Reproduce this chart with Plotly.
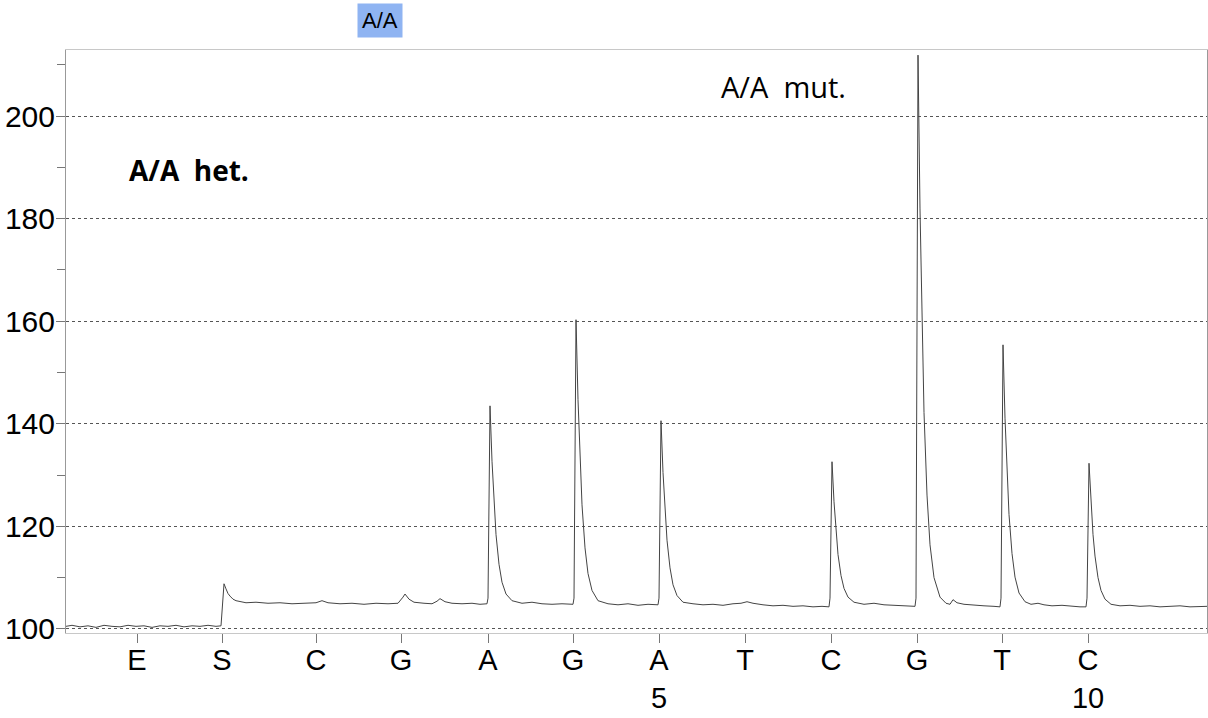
import plotly.graph_objects as go

# Dispensation order (tick labels) and their positions on the time axis
disp_labels = ["E", "S", "C", "G", "A", "G", "A<br>5", "T", "C", "G", "T", "C<br>10"]
disp_pos = [137, 222, 316, 401, 488, 573, 659, 745, 831, 917, 1002, 1088]

# Pyrogram trace (time units, signal)
trace_x = [
    66, 72, 80, 88, 96, 104, 112, 120, 128, 136, 144, 152, 160, 168, 176, 184, 192, 200, 208, 216, 221,
    222, 224, 226, 228, 230, 233, 236, 240, 246,
    256, 268, 280, 292, 304, 316, 322, 328, 340, 352, 364, 376, 388, 398, 403, 405, 409, 414, 424, 432,
    437, 440, 445, 452, 462, 472, 480, 487,
    488, 490, 492, 494, 496, 499, 502, 506, 512,
    522, 532, 542, 552, 562, 573,
    574, 576, 578, 580, 582, 585, 588, 592, 598,
    608, 618, 628, 638, 648, 658,
    659, 661, 663, 665, 667, 670, 673, 677, 683,
    693, 703, 713, 723, 733, 741, 747, 753, 763, 773, 783, 793, 803, 813, 822, 829,
    830, 832, 834, 836, 838, 841, 844, 848, 854,
    864, 874, 884, 894, 904, 915,
    916, 918, 920, 922, 924, 927, 930, 934, 940,
    946, 950, 953, 957, 964, 974, 984, 994, 1000,
    1001, 1003, 1005, 1007, 1009, 1012, 1015, 1019, 1025,
    1031, 1038, 1044, 1052, 1062, 1072, 1080, 1086,
    1087, 1089, 1091, 1093, 1095, 1098, 1101, 1105, 1111,
    1120, 1130, 1140, 1150, 1160, 1170, 1180, 1190, 1200, 1207,
]
trace_y = [
    100.5, 100.7, 100.4, 100.6, 100.3, 100.7, 100.5, 100.4, 100.7, 100.5, 100.6, 100.3, 100.6, 100.5, 100.7, 100.4, 100.6, 100.5, 100.7, 100.5, 100.6,
    104.0, 108.8, 107.8, 106.9, 106.4, 105.8, 105.5, 105.3, 105.1,
    105.2, 105.0, 105.1, 104.9, 105.0, 105.1, 105.5, 105.1, 104.9, 105.0, 104.8, 105.0, 104.9, 105.0, 106.2, 106.8, 105.8, 105.2, 105.0, 104.9,
    105.4, 105.9, 105.3, 105.0, 104.9, 105.0, 104.8, 104.9,
    106.0, 143.5, 132.7, 124.2, 118.4, 112.6, 109.1, 106.8, 105.5,
    105.0, 105.2, 104.9, 104.8, 104.9, 104.8,
    106.0, 160.3, 144.7, 132.5, 124.2, 115.8, 110.8, 107.5, 105.5,
    104.9, 104.7, 104.9, 104.6, 104.8, 104.7,
    106.0, 140.6, 130.5, 122.7, 117.3, 111.9, 108.6, 106.5, 105.2,
    104.9, 104.7, 104.8, 104.6, 104.9, 105.0, 105.3, 105.0, 104.7, 104.5, 104.6, 104.4, 104.5, 104.3, 104.4, 104.3,
    106.0, 132.6, 124.8, 118.7, 114.5, 110.4, 107.9, 106.2, 105.2,
    104.8, 105.0, 104.7, 104.6, 104.5, 104.4,
    106.0, 211.9, 181.9, 158.3, 142.2, 126.1, 116.4, 110.0, 106.2,
    105.0, 104.8, 105.7, 105.1, 104.8, 104.6, 104.5, 104.4, 104.3,
    106.0, 155.4, 141.1, 129.9, 122.3, 114.7, 110.1, 107.0, 105.3,
    104.8, 105.0, 104.7, 104.5, 104.6, 104.4, 104.3, 104.3,
    106.0, 132.3, 124.5, 118.4, 114.2, 110.0, 107.5, 105.8, 104.8,
    104.5, 104.6, 104.4, 104.5, 104.3, 104.4, 104.5, 104.3, 104.4, 104.4,
]

y_ticks = [100, 120, 140, 160, 180, 200]

fig = go.Figure()
fig.add_trace(go.Scatter(
    x=trace_x, y=trace_y, mode="lines",
    line=dict(color="#444444", width=1),
    hoverinfo="skip", showlegend=False,
))

fig.update_layout(
    width=1208, height=718,
    margin=dict(l=66, r=1, t=50, b=85),
    paper_bgcolor="white", plot_bgcolor="white",
    font=dict(family="Liberation Sans, Arial, sans-serif", color="black"),
    showlegend=False,
)

fig.update_xaxes(
    range=[66, 1207],
    tickmode="array", tickvals=disp_pos, ticktext=disp_labels,
    ticks="outside", ticklen=9, tickwidth=1, tickcolor="#777",
    ticklabelstandoff=-8,
    tickfont=dict(size=29, family="Liberation Sans, Arial, sans-serif"),
    showgrid=False, zeroline=False,
    showline=True, linecolor="#c8c8c8", linewidth=1, mirror=True,
)
fig.update_yaxes(
    range=[99.2, 212.9],
    tickmode="array", tickvals=y_ticks,
    ticks="outside", ticklen=9, tickwidth=1, tickcolor="#777",
    ticklabelstandoff=-5,
    minor=dict(tickvals=[110, 130, 150, 170, 190, 210], ticks="outside", ticklen=8, tickcolor="#777", showgrid=False),
    tickfont=dict(size=30, family="Liberation Sans, Arial, sans-serif"),
    showgrid=True, gridcolor="#555", griddash="dot", gridwidth=1,
    zeroline=False,
    showline=True, linecolor="#999", linewidth=1, mirror=True,
)

fig.add_annotation(
    x=127, y=189.5, xref="x", yref="y", text="<b>A/A  het.</b>",
    showarrow=False, xanchor="left", yanchor="middle",
    font=dict(family="Open Sans, sans-serif", size=28, color="black"),
)
fig.add_annotation(
    x=719, y=205.8, xref="x", yref="y", text="A/A  mut.",
    showarrow=False, xanchor="left", yanchor="middle",
    font=dict(family="Open Sans, sans-serif", size=29, color="black"),
)
fig.add_annotation(
    x=380, y=1.05, xref="x", yref="paper", text="A/A",
    showarrow=False, xanchor="center", yanchor="middle",
    bgcolor="#8fb4f2", borderpad=4,
    font=dict(family="Liberation Sans, Arial, sans-serif", size=22, color="black"),
)

fig.write_html("out.html")
